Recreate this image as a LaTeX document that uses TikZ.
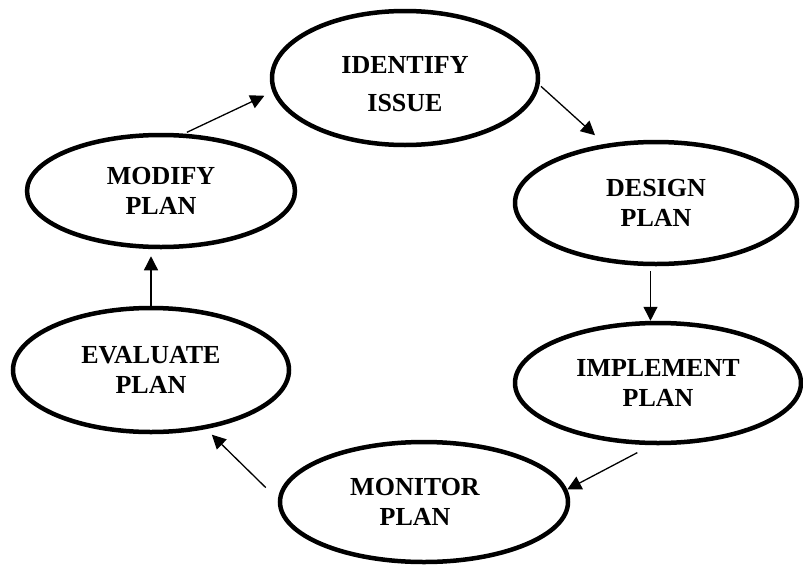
\documentclass[tikz,border=0pt]{standalone}
\usepackage{fontspec}
\setmainfont{Liberation Serif}
\usetikzlibrary{shapes.geometric,arrows.meta}
\tikzset{>={Triangle[length=14pt,width=14pt]}}
\colorlet{background}{white}
\colorlet{penColor}{black}
\tikzset{
  stage/.style={ellipse, draw=penColor, line width=4.5pt, fill=background, align=center,
    inner sep=0pt, font=\fontsize{26}{30}\selectfont\bfseries},
  flow/.style={->, penColor, line width=1.3pt}
}

\begin{document}
\begin{tikzpicture}[x=1pt,y=-1pt]
\useasboundingbox (0,0) rectangle (803,565);
% the six stages of the cycle
\node[stage, minimum width=266pt, minimum height=134pt] (identify) at (405,78)
  {\rule{0pt}{29pt}IDENTIFY\\[8pt]ISSUE};
\node[stage, minimum width=282pt, minimum height=122pt] (design) at (656,203) {DESIGN\\PLAN};
\node[stage, minimum width=286pt, minimum height=120pt] (implement) at (658,383) {IMPLEMENT\\PLAN};
\node[stage, minimum width=288pt, minimum height=120pt] (monitor) at (424,502)
  {\hspace*{-18pt}MONITOR\\\hspace*{-18pt}PLAN};
\node[stage, minimum width=276pt, minimum height=124pt] (evaluate) at (151,370) {EVALUATE\\PLAN};
\node[stage, minimum width=268pt, minimum height=112pt] (modify) at (161,191) {MODIFY\\PLAN};
% arrows, clockwise
\draw[flow, shorten <=2pt, shorten >=13pt] (identify.-3) -- (design.131);
\draw[flow, shorten <=5pt] (design.265) -- (design.265 |- implement.north);
\draw[flow, shorten <=16pt] (implement.264) -- (monitor.5);
\draw[flow, shorten <=17pt, shorten >=8pt] (monitor.179) -- (evaluate.-47);
\draw[flow, shorten >=7pt] (evaluate.north) -- (evaluate.north |- modify.south);
\draw[flow, shorten <=3pt, shorten >=9pt] (modify.68) -- (identify.186);
\end{tikzpicture}
\end{document}
